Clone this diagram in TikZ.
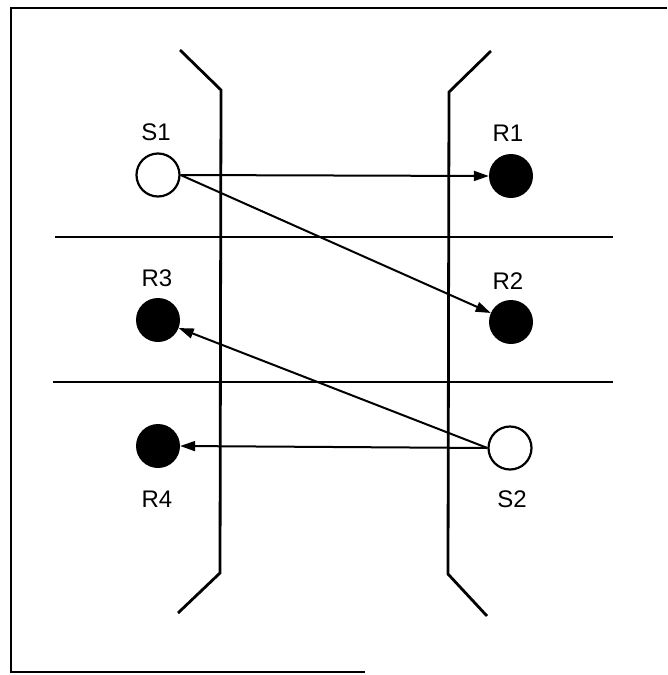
\documentclass[tikz,border=0pt]{standalone}
\usepackage{fontspec}
\setmainfont{Liberation Sans}
\usetikzlibrary{arrows.meta}
\tikzset{
  opennode/.style={circle,draw=black,line width=2.2pt,fill=white,minimum size=43pt,inner sep=0pt},
  fullnode/.style={circle,fill=black,minimum size=44pt,inner sep=0pt},
  lbl/.style={font=\fontsize{24}{28}\selectfont,inner sep=0pt},
  conn/.style={line width=2pt,-{Triangle[length=15pt,width=10pt]}},
  wall/.style={line width=2.8pt,line join=miter},
  band/.style={line width=1.8pt},
  frame/.style={line width=2.6pt}
}
\begin{document}
\begin{tikzpicture}[x=1pt,y=-1pt]
\useasboundingbox (0,0) rectangle (667,675);
% frame
\draw[frame] (667,8) -- (11,8) -- (11,672) -- (365,672);
% walls
\draw[wall] (180,50) -- (221,90) -- (220,573) -- (178,613);
\draw[wall] (491,51) -- (449,92) -- (448,574) -- (487,616);
% bands
\draw[band] (55,237) -- (613,237);
\draw[band] (53,382) -- (613,382);
% nodes
\node[opennode] (S1) at (158,175) {};
\node[fullnode] (R1) at (511,176) {};
\node[fullnode] (R2) at (511,322) {};
\node[fullnode] (R3) at (158,320) {};
\node[opennode] (S2) at (510,448) {};
\node[fullnode] (R4) at (158,446) {};
% labels
\node[lbl] (lS1) at (156,132) {S1};
\node[lbl] (lR1) at (508,133) {R1};
\node[lbl] (lR3) at (157,278) {R3};
\node[lbl] (lR2) at (508,281) {R2};
\node[lbl] (lR4) at (157,499) {R4};
\node[lbl] (lS2) at (512,499) {S2};
% connectors
\draw[conn] (S1.east) -- (R1.west);
\draw[conn] (S1.east) -- (R2);
\draw[conn] (S2.west) -- (R3);
\draw[conn] (S2.west) -- (R4.east);
\end{tikzpicture}
\end{document}
